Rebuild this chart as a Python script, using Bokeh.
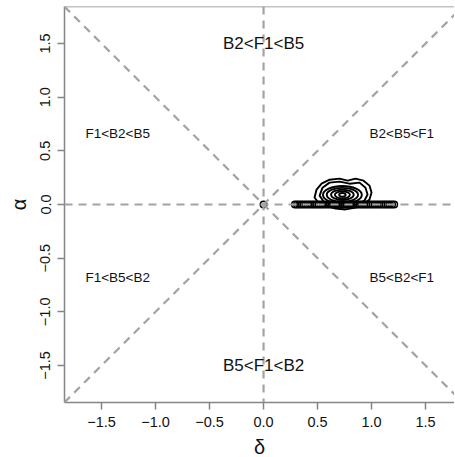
from bokeh.plotting import figure
from bokeh.models import Range1d, FixedTicker, Span, Slope, Label
from bokeh.embed import file_html
from bokeh.resources import INLINE

# ---- data ----
x_ticks = [-1.5, -1.0, -0.5, 0.0, 0.5, 1.0, 1.5]
x_tick_labels = ["\u22121.5", "\u22121.0", "\u22120.5", "0.0", "0.5", "1.0", "1.5"]
y_ticks = [-1.5, -1.0, -0.5, 0.0, 0.5, 1.0, 1.5]
y_tick_labels = ["\u22121.5", "\u22121.0", "\u22120.5", "0.0", "0.5", "1.0", "1.5"]

# dashed reference lines
vline_x = [0.0]
hline_y = [0.0]
diag_slopes = [1.0, -1.0]

# region labels
region_text = ["B2<F1<B5", "B5<F1<B2"]
region_x = [0.0, 0.0]
region_y = [1.5, -1.5]
side_text = ["F1<B2<B5", "B2<B5<F1", "F1<B5<B2", "B5<B2<F1"]
side_x = [-1.35, 1.28, -1.35, 1.28]
side_y = [0.66, 0.66, -0.68, -0.68]

# samples with alpha = 0
sample_delta = [0.0, 0.29, 0.31, 0.33, 0.35, 0.37, 0.39, 0.41, 0.43, 0.45, 0.47, 0.49,
                0.51, 0.53, 0.55, 0.57, 0.59, 0.61, 0.63, 0.65, 0.67, 0.69, 0.71,
                0.73, 0.75, 0.77, 0.79, 0.81, 0.83, 0.85, 0.87, 0.89, 0.91, 0.93,
                0.95, 0.97, 0.99, 1.01, 1.03, 1.05, 1.07, 1.09, 1.11, 1.13, 1.15,
                1.17, 1.19, 1.21]
sample_alpha = [0.0] * len(sample_delta)

# density contours (outer irregular rings)
ring1_x = [0.472, 0.491, 0.537, 0.611, 0.704, 0.778, 0.852, 0.926, 0.981, 1.0, 0.981,
           0.926, 0.852, 0.759, 0.667, 0.574, 0.5]
ring1_y = [0.065, 0.139, 0.194, 0.231, 0.241, 0.222, 0.241, 0.222, 0.176, 0.111, 0.046,
           0.0, -0.028, -0.046, -0.037, -0.009, 0.028]
ring2_x = [0.519, 0.546, 0.611, 0.704, 0.796, 0.889, 0.944, 0.963, 0.935, 0.861, 0.75,
           0.639, 0.556]
ring2_y = [0.083, 0.157, 0.204, 0.213, 0.194, 0.204, 0.157, 0.093, 0.037, 0.0, -0.019,
           -0.009, 0.028]
# inner contours (centre, width, height)
inner_x = [0.73, 0.73, 0.73, 0.73, 0.73]
inner_y = [0.09, 0.09, 0.09, 0.09, 0.09]
inner_w = [0.36, 0.29, 0.21, 0.14, 0.06]
inner_h = [0.165, 0.13, 0.095, 0.065, 0.035]

X_MIN, X_MAX = -1.843, 1.768
Y_MIN, Y_MAX = -1.845, 1.845

FONT = "Liberation Sans"
BOX = "#858585"
DASH = "#a3a3a3"

p = figure(frame_width=390, frame_height=396, output_backend="svg", toolbar_location=None,
           x_range=Range1d(X_MIN, X_MAX), y_range=Range1d(Y_MIN, Y_MAX),
           min_border_left=64, min_border_right=0, min_border_top=6, min_border_bottom=40,
           background_fill_color="white", border_fill_color="white")
p.outline_line_color = None
p.grid.visible = False

for ax, ticks, labels in ((p.xaxis[0], x_ticks, x_tick_labels), (p.yaxis[0], y_ticks, y_tick_labels)):
    ax.ticker = FixedTicker(ticks=ticks)
    ax.major_label_overrides = {t: l for t, l in zip(ticks, labels)}
    ax.axis_line_color = BOX
    ax.axis_line_width = 1.5
    ax.major_tick_line_color = BOX
    ax.major_tick_line_width = 1.5
    ax.major_tick_out = 7
    ax.major_tick_in = 0
    ax.minor_tick_line_color = None
    ax.major_label_text_font = FONT
    ax.major_label_text_font_size = "14.5px"
    ax.major_label_text_color = "#111111"
    ax.axis_label_text_font = FONT
    ax.axis_label_text_font_style = "normal"
    ax.axis_label_text_font_size = "20px"
    ax.axis_label_text_color = "#111111"

p.xaxis.axis_label = "\u03b4"
p.yaxis.axis_label = "\u03b1"
p.xaxis.major_label_standoff = 7
p.yaxis.major_label_standoff = 7
p.xaxis.axis_label_standoff = 6
p.yaxis.axis_label_standoff = 8
p.yaxis.major_label_orientation = "vertical"

# top border of the box
p.add_layout(Span(location=Y_MAX, dimension="width", line_color=BOX, line_width=1.5))

# contours
p.patches([ring1_x, ring2_x], [ring1_y, ring2_y], fill_color=None, line_color="black", line_width=1.9)
p.ellipse(x=inner_x, y=inner_y, width=inner_w, height=inner_h, fill_color=None,
          line_color="black", line_width=1.9)

# samples
p.scatter(sample_delta, sample_alpha, marker="circle", size=6.5, fill_color=None,
          line_color="black", line_width=1.5)

# dashed reference lines
for xv in vline_x:
    p.add_layout(Span(location=xv, dimension="height", line_color=DASH, line_width=2.2, line_dash="8 6"))
for yv in hline_y:
    p.add_layout(Span(location=yv, dimension="width", line_color=DASH, line_width=2.2, line_dash="8 6"))
for s in diag_slopes:
    p.add_layout(Slope(gradient=s, y_intercept=0, line_color=DASH, line_width=2.2, line_dash="8 6"))

for t, x, y in zip(region_text, region_x, region_y):
    p.add_layout(Label(x=x, y=y, text=t, text_align="center", text_baseline="middle",
                       text_font=FONT, text_font_size="17px", text_color="#111111"))
for t, x, y in zip(side_text, side_x, side_y):
    p.add_layout(Label(x=x, y=y, text=t, text_align="center", text_baseline="middle",
                       text_font=FONT, text_font_size="13.5px", text_color="#111111"))

open("out.html", "w").write(file_html(p, INLINE))
